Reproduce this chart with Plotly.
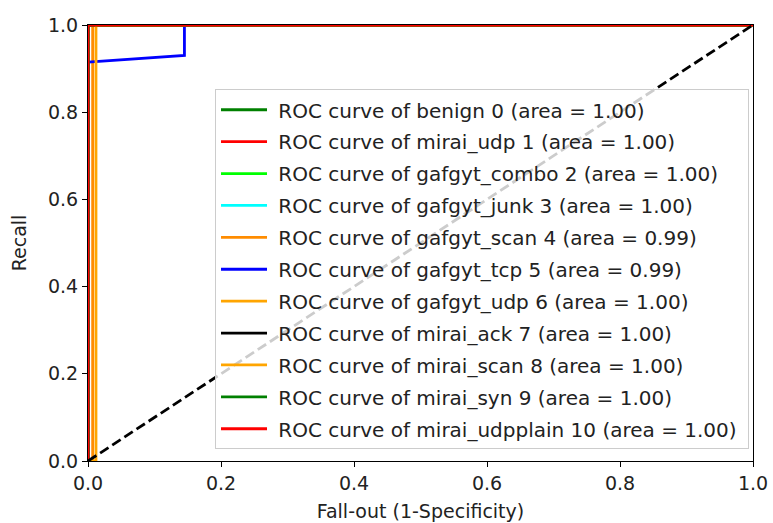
import plotly.graph_objects as go

class_names = ["benign 0", "mirai_udp 1", "gafgyt_combo 2", "gafgyt_junk 3",
               "gafgyt_scan 4", "gafgyt_tcp 5", "gafgyt_udp 6", "mirai_ack 7",
               "mirai_scan 8", "mirai_syn 9", "mirai_udpplain 10"]
areas = ["1.00", "1.00", "1.00", "1.00", "0.99", "0.99", "1.00", "1.00", "1.00", "1.00", "1.00"]
line_colors = ["#008000", "#FF0000", "#00FF00", "#00FFFF", "#FF8C00", "#0000FF",
               "#FFA500", "#000000", "#FFA500", "#008000", "#FF0000"]

fpr_benign = [0.0, 0.0, 1.0]
tpr_benign = [0.0, 1.0, 1.0]
fpr_mirai_udp = [0.0, 0.0, 1.0]
tpr_mirai_udp = [0.0, 1.0, 1.0]
fpr_gafgyt_combo = [0.0, 0.0, 1.0]
tpr_gafgyt_combo = [0.0, 1.0, 1.0]
fpr_gafgyt_junk = [0.0, 0.0, 1.0]
tpr_gafgyt_junk = [0.0, 1.0, 1.0]
fpr_gafgyt_scan = [0.0, 0.007, 0.007, 1.0]
tpr_gafgyt_scan = [0.0, 0.0, 1.0, 1.0]
fpr_gafgyt_tcp = [0.0, 0.0, 0.145, 0.145, 1.0]
tpr_gafgyt_tcp = [0.0, 0.915, 0.93, 1.0, 1.0]
fpr_gafgyt_udp = [0.0, 0.0, 1.0]
tpr_gafgyt_udp = [0.0, 1.0, 1.0]
fpr_mirai_ack = [0.0, 0.0, 1.0]
tpr_mirai_ack = [0.0, 1.0, 1.0]
fpr_mirai_scan = [0.0, 0.012, 0.012, 1.0]
tpr_mirai_scan = [0.0, 0.0, 1.0, 1.0]
fpr_mirai_syn = [0.0, 0.0, 1.0]
tpr_mirai_syn = [0.0, 1.0, 1.0]
fpr_mirai_udpplain = [0.0, 0.0, 1.0]
tpr_mirai_udpplain = [0.0, 1.0, 1.0]

fprs = [fpr_benign, fpr_mirai_udp, fpr_gafgyt_combo, fpr_gafgyt_junk, fpr_gafgyt_scan,
        fpr_gafgyt_tcp, fpr_gafgyt_udp, fpr_mirai_ack, fpr_mirai_scan, fpr_mirai_syn,
        fpr_mirai_udpplain]
tprs = [tpr_benign, tpr_mirai_udp, tpr_gafgyt_combo, tpr_gafgyt_junk, tpr_gafgyt_scan,
        tpr_gafgyt_tcp, tpr_gafgyt_udp, tpr_mirai_ack, tpr_mirai_scan, tpr_mirai_syn,
        tpr_mirai_udpplain]

diag_x = [0.0, 1.0]
diag_y = [0.0, 1.0]
tick_vals = [0.0, 0.2, 0.4, 0.6, 0.8, 1.0]
tick_text = ["0.0", "0.2", "0.4", "0.6", "0.8", "1.0"]

FONT = "DejaVu Sans"
TXT = "#222222"

fig = go.Figure()
for i, name in enumerate(class_names):
    fig.add_trace(go.Scatter(
        x=fprs[i], y=tprs[i], mode="lines",
        line=dict(color=line_colors[i], width=2.8),
        name=f"\u00a0ROC curve of {name} (area = {areas[i]})\u00a0",
        legendgroup=f"g{i}",
    ))
fig.add_trace(go.Scatter(
    x=diag_x, y=diag_y, mode="lines",
    line=dict(color="black", width=2.8, dash="10px,4.5px"),
    showlegend=False,
))

axis_common = dict(
    range=[0, 1], tickvals=tick_vals, ticktext=tick_text,
    showline=True, linecolor="black", linewidth=1, mirror=True,
    ticks="outside", ticklen=5, tickwidth=1, tickcolor="black",
    showgrid=False, zeroline=False, automargin=False,
    tickfont=dict(family=FONT, size=19, color=TXT),
)
fig.update_xaxes(**axis_common,
                 title=dict(text="Fall-out (1-Specificity)",
                            font=dict(family=FONT, size=19, color=TXT), standoff=11))
fig.update_yaxes(**axis_common,
                 title=dict(text="Recall",
                            font=dict(family=FONT, size=19, color=TXT), standoff=16))

fig.update_layout(
    width=773, height=523,
    margin=dict(l=88, r=20, t=25, b=62),
    paper_bgcolor="white", plot_bgcolor="white",
    font=dict(family=FONT, size=19, color=TXT),
    legend=dict(
        x=0.994, y=0.027, xanchor="right", yanchor="bottom",
        bgcolor="rgba(255,255,255,0.8)", bordercolor="#cccccc", borderwidth=1,
        font=dict(family=FONT, size=20, color=TXT),
        tracegroupgap=2.9, itemwidth=46,
    ),
)

fig.write_html("out.html")
